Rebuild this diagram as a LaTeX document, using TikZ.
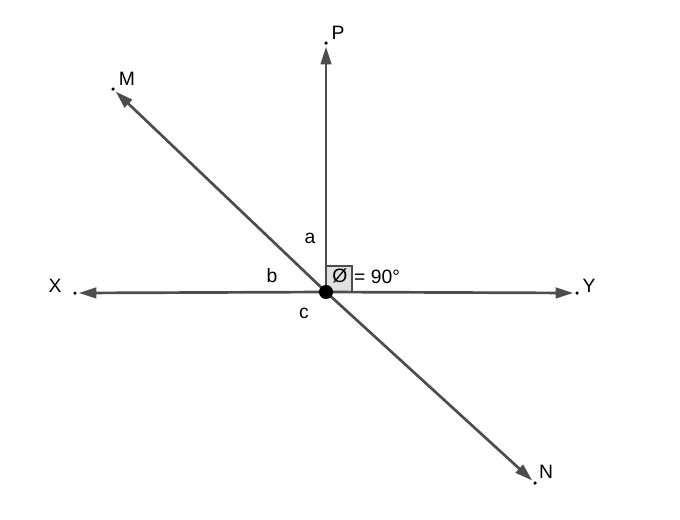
\documentclass[tikz,border=0pt]{standalone}
\usepackage{fontspec}
\setmainfont{Liberation Sans}
\usetikzlibrary{arrows.meta}
\definecolor{linegray}{HTML}{4D4D4D}
\tikzstyle{ray} = [draw=linegray, line width=2.3pt, -{Triangle[length=15pt,width=9pt]}, shorten >=1.5pt]
\tikzstyle{pt} = [circle, fill=black, inner sep=0pt, minimum size=3pt]
\tikzstyle{lab} = [font=\fontsize{16.5}{19}\selectfont, inner sep=0pt]

\begin{document}
\begin{tikzpicture}[x={(0.03cm,0)}, y={(0,-0.03cm)}]
		\useasboundingbox (0,0) rectangle (680,519);
		% Puntos
		\node[pt] (P) at (326,43) {};
		\node[pt] (M) at (113,89) {};
		\node[pt] (X) at (75,293) {};
		\node[pt] (Y) at (577,293) {};
		\node[pt] (N) at (535,483) {};
		\coordinate (O) at (326,292);
		% Angulo recto
		\filldraw[draw=linegray, fill=black!12, line width=1.2pt] (O) rectangle (352,266);
		% Rayos
		\draw[ray] (O) -- (P);
		\draw[ray] (O) -- (M);
		\draw[ray] (O) -- (X);
		\draw[ray] (O) -- (Y);
		\draw[ray] (O) -- (N);
		\node[circle, fill=black, inner sep=0pt, minimum size=12pt] (Odot) at (O) {};
		% Etiquetas
		\node[lab] at (338,33) {P};
		\node[lab] at (127,79) {M};
		\node[lab] at (55,286) {X};
		\node[lab] at (589,286) {Y};
		\node[lab] at (546,472) {N};
		\node[lab] at (310,238) {a};
		\node[lab] at (272,276) {b};
		\node[lab] at (304,313) {c};
		\node[lab] at (340,276) {Ø};
		\node[lab, anchor=west] at (354,277) {= 90°};
	\end{tikzpicture}
\end{document}
